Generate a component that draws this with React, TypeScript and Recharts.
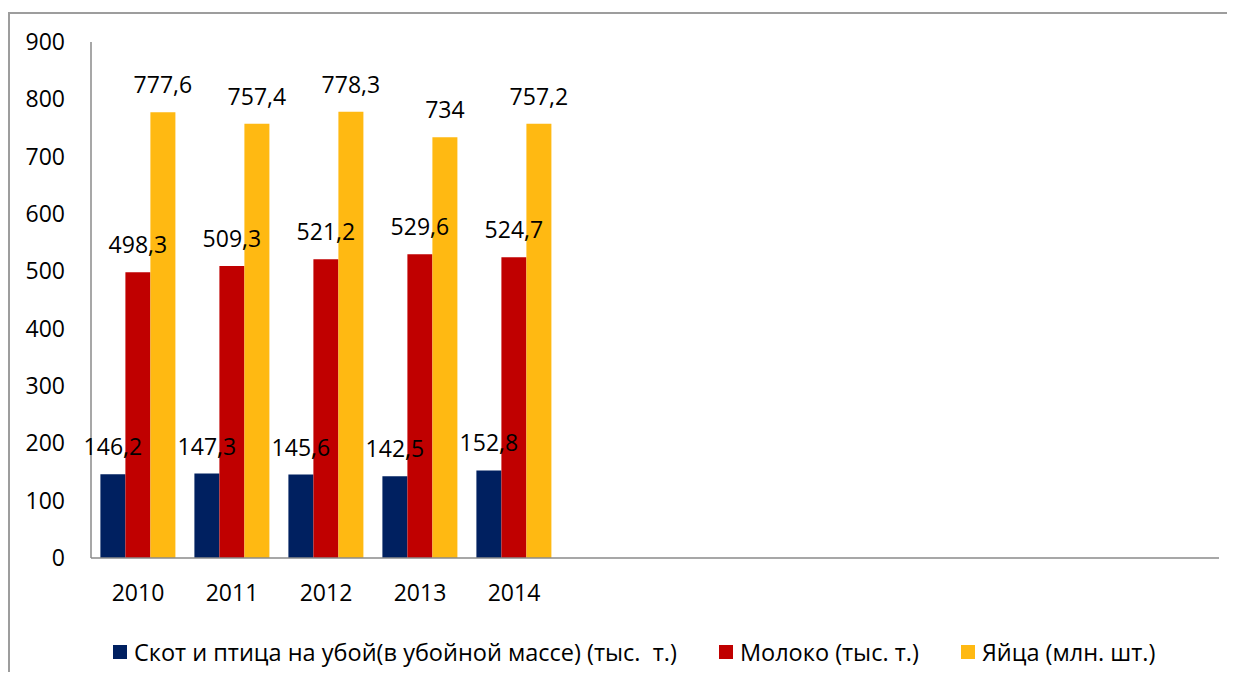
import { Bar, BarChart, LabelList, Legend, XAxis, YAxis } from "recharts";

const years = ["2010", "2011", "2012", "2013", "2014"];
const livestock = [146.2, 147.3, 145.6, 142.5, 152.8];
const milk = [498.3, 509.3, 521.2, 529.6, 524.7];
const eggs = [777.6, 757.4, 778.3, 734, 757.2];
// the axis in the source has room for 12 years, only 5 are filled
const slots = 12;
const yTicks = [0, 100, 200, 300, 400, 500, 600, 700, 800, 900];

const series = [
  { key: "livestock", name: "Скот и птица на убой(в убойной массе) (тыс.  т.)", color: "#002060" },
  { key: "milk", name: "Молоко (тыс. т.)", color: "#C00000" },
  { key: "eggs", name: "Яйца (млн. шт.)", color: "#FFB912" },
];

const data = Array.from({ length: slots }, (_, i) => ({
  year: years[i] ?? "",
  livestock: livestock[i] ?? null,
  milk: milk[i] ?? null,
  eggs: eggs[i] ?? null,
}));

const font = "'Open Sans', sans-serif";

const fmt = (v: unknown) => (v == null ? "" : String(v).replace(".", ","));

const LegendBox = () => (
  <div
    style={{
      height: 64,
      boxSizing: "border-box",
      paddingTop: 24,
      paddingLeft: 103,
      display: "flex",
      fontFamily: font,
      fontSize: 23.5,
      lineHeight: "26px",
      color: "#000",
    }}
  >
    {series.map((s) => (
      <div key={s.key} style={{ display: "flex", alignItems: "center", marginRight: 42, whiteSpace: "pre" }}>
        <span style={{ width: 14, height: 14, background: s.color, marginRight: 7, display: "inline-block" }} />
        {s.name}
      </div>
    ))}
  </div>
);

export default function App() {
  return (
    <div
      style={{
        marginTop: 4,
        width: 1225,
        height: 658,
        borderTop: "2px solid #9d9d9d",
        borderLeft: "2px solid #9d9d9d",
        overflow: "hidden",
      }}
    >
      <BarChart
        width={1225}
        height={658}
        data={data}
        margin={{ top: 28, right: 16, left: 0, bottom: 0 }}
        barGap={0}
        barCategoryGap="10%"
      >
        <XAxis
          dataKey="year"
          interval={0}
          height={50}
          tickLine={false}
          tickMargin={21}
          stroke="#8a8a8a"
          strokeWidth={1.5}
          tick={{ fill: "#000", fontSize: 23, fontFamily: font }}
        />
        <YAxis
          width={81}
          domain={[0, 900]}
          ticks={yTicks}
          interval={0}
          tickLine={false}
          tickMargin={20}
          stroke="#8a8a8a"
          strokeWidth={1.5}
          tick={{ fill: "#000", fontSize: 23, fontFamily: font }}
        />
        <Legend
          verticalAlign="bottom"
          content={<LegendBox />}
          wrapperStyle={{ left: 0, width: 1225, bottom: 0, height: 64 }}
        />
        {series.map((s) => (
          <Bar key={s.key} dataKey={s.key} name={s.name} fill={s.color} isAnimationActive={false}>
            <LabelList
              dataKey={s.key}
              position="top"
              offset={19}
              formatter={fmt}
              style={{ fill: "#000", fontSize: 23, fontFamily: font }}
            />
          </Bar>
        ))}
      </BarChart>
    </div>
  );
}
